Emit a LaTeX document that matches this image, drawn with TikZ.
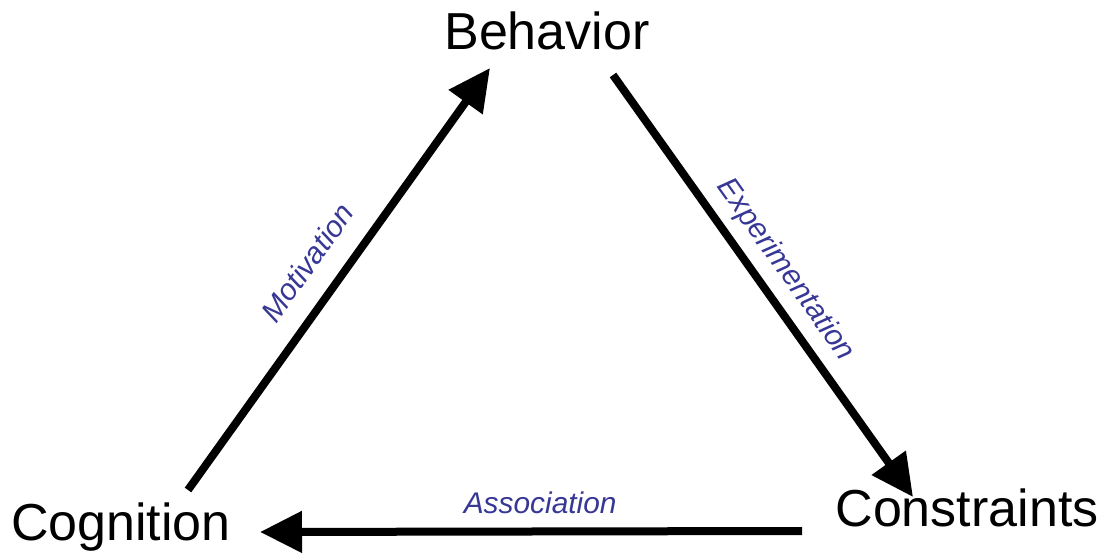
\documentclass[tikz,border=0pt]{standalone}
\usepackage{fontspec}
\setmainfont{Liberation Sans}
\usetikzlibrary{arrows.meta, positioning, calc}
\definecolor{labelblue}{RGB}{55,55,150}

\begin{document}
\begin{tikzpicture}
        \tikzstyle{concept} = [inner sep=0pt, anchor=base, font=\fontsize{29.6}{34}\selectfont]
        \tikzstyle{link} = [line width=0.16cm, -{Triangle[length=0.84cm, width=0.8cm]}]
        \tikzstyle{linklabel} = [sloped, inner sep=0pt, text=labelblue, font=\fontsize{17}{20}\selectfont\itshape]

        \useasboundingbox (0,0) rectangle (22.2,11.14);

        \node (beh) [concept] at (10.94,10.14) {Behavior};
        \node (cog) [concept] at (2.42,0.34) {Cognition};
        \node (con) [concept] at (19.34,0.62) {Constraints};

        \draw [link] ($(cog.base)+(1.34,1.00)$) -- node[linklabel, pos=0.49, above=0.41cm] {Motivation} ($(beh.base)+(-1.14,-0.36)$);
        \draw [link] ($(beh.base)+(1.32,-0.50)$) -- node[linklabel, pos=0.5, above=0.19cm] {Experimentation} ($(con.base)+(-1.08,0.58)$);
        \draw [link] ($(con.base)+(-3.30,-0.10)$) -- node[linklabel, pos=0.483, above=0.28cm] {Association} ($(cog.base)+(2.78,0.16)$);
    \end{tikzpicture}
\end{document}
